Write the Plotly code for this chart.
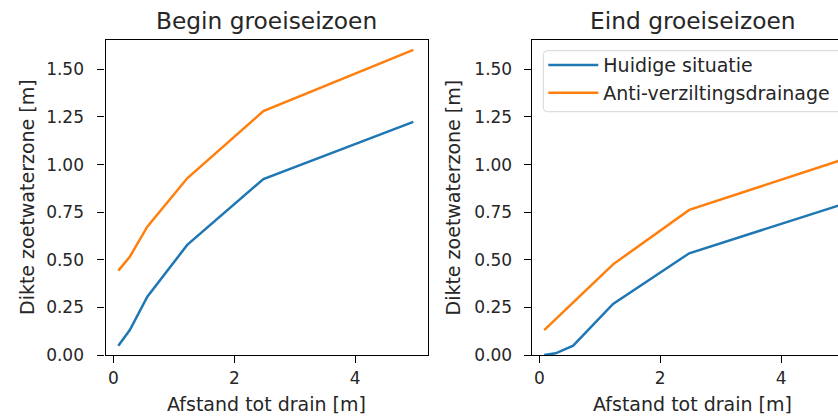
import plotly.graph_objects as go

# ---- data ----
afstand = [0.08, 0.27, 0.56, 1.22, 2.48, 4.96]
begin_huidig = [0.049, 0.131, 0.306, 0.578, 0.924, 1.224]
begin_anti = [0.443, 0.516, 0.674, 0.928, 1.281, 1.602]
eind_huidig = [0.0, 0.009, 0.049, 0.268, 0.534, 0.786]
eind_anti = [0.131, 0.188, 0.276, 0.476, 0.762, 1.020]
series_names = ["Huidige situatie", "Anti-verziltingsdrainage"]
titles = ["Begin groeiseizoen", "Eind groeiseizoen"]
x_label = "Afstand tot drain [m]"
y_label = "Dikte zoetwaterzone [m]"
y_ticks = [0, 0.25, 0.5, 0.75, 1.0, 1.25, 1.5]
x_ticks = [0, 2, 4]

W, H = 838, 418
BLUE, ORANGE = "#1f77b4", "#ff7f0e"
FONT = "DejaVu Sans"
TXT = "#262626"


def fx(px):
    return px / W


def fy(py):
    return 1 - py / H


fig = go.Figure()
fig.add_trace(go.Scatter(x=afstand, y=begin_huidig, mode="lines", name=series_names[0],
                         line=dict(color=BLUE, width=2.5), xaxis="x", yaxis="y",
                         legendgroup="a", showlegend=False))
fig.add_trace(go.Scatter(x=afstand, y=begin_anti, mode="lines", name=series_names[1],
                         line=dict(color=ORANGE, width=2.5), xaxis="x", yaxis="y",
                         legendgroup="b", showlegend=False))
fig.add_trace(go.Scatter(x=afstand, y=eind_huidig, mode="lines", name=series_names[0],
                         line=dict(color=BLUE, width=2.5), xaxis="x2", yaxis="y2",
                         legendgroup="a", showlegend=True))
fig.add_trace(go.Scatter(x=afstand, y=eind_anti, mode="lines", name=series_names[1],
                         line=dict(color=ORANGE, width=2.5), xaxis="x2", yaxis="y2",
                         legendgroup="b", showlegend=True))

ax_common = dict(showgrid=False, zeroline=False, showline=True, linecolor="black",
                 linewidth=1.2, ticks="outside", ticklen=7, tickwidth=1.2,
                 tickcolor="black", automargin=False,
                 tickfont=dict(family=FONT, size=17, color=TXT))

ydom = [fy(355), fy(40)]

# legend frame (rounded box, right part runs off the page like the reference)
bx0, bx1, by0, by1, r = 543.3, 870.0, 50.7, 111.7, 4.0
rx, ry = r / W, r / H
X0, X1, Y0, Y1 = fx(bx0), fx(bx1), fy(by0), fy(by1)
frame_path = (f"M {X0 + rx},{Y0} L {X1 - rx},{Y0} Q {X1},{Y0} {X1},{Y0 - ry} "
              f"L {X1},{Y1 + ry} Q {X1},{Y1} {X1 - rx},{Y1} L {X0 + rx},{Y1} "
              f"Q {X0},{Y1} {X0},{Y1 + ry} L {X0},{Y0 - ry} Q {X0},{Y0} {X0 + rx},{Y0} Z")

fig.update_layout(
    width=W, height=H,
    margin=dict(l=0, r=0, t=0, b=0, pad=0, autoexpand=False),
    paper_bgcolor="white", plot_bgcolor="white",
    font=dict(family=FONT, size=17, color=TXT),
    xaxis=dict(domain=[fx(105.5), fx(428.3)], range=[-0.132, 5.208], tickvals=x_ticks,
               mirror=True, anchor="y", **ax_common),
    yaxis=dict(domain=ydom, range=[0, 1.654], tickvals=y_ticks, tickformat=".2f",
               mirror=True, anchor="x", ticklabelstandoff=10, **ax_common),
    xaxis2=dict(domain=[fx(531.7), 1.0], range=[-0.126, 4.94], tickvals=x_ticks,
                mirror=True, anchor="y2", **ax_common),
    yaxis2=dict(domain=ydom, range=[0, 1.654], tickvals=y_ticks, tickformat=".2f",
                mirror=False, anchor="x2", ticklabelstandoff=8, **ax_common),
    legend=dict(x=fx(543.3), y=fy(46.2), xanchor="left", yanchor="top",
                bgcolor="rgba(0,0,0,0)", bordercolor="rgba(0,0,0,0)", borderwidth=0,
                font=dict(family=FONT, size=19, color=TXT), itemwidth=50,
                tracegroupgap=0),
    showlegend=True,
    shapes=[dict(type="path", path=frame_path, xref="paper", yref="paper",
                 line=dict(color="#d6d6d6", width=1), fillcolor="rgba(255,255,255,0.8)",
                 layer="above")],
)

annots = [
    dict(text=titles[0], x=fx(266.9), y=fy(20), size=23.3, angle=0),
    dict(text=titles[1], x=fx(693), y=fy(20), size=23.3, angle=0),
    dict(text=x_label, x=fx(266.9), y=fy(404), size=19, angle=0),
    dict(text=x_label, x=fx(692.5), y=fy(404), size=19, angle=0),
    dict(text=y_label, x=fx(26.5), y=fy(197.5), size=19, angle=-90),
    dict(text=y_label, x=fx(452), y=fy(197.5), size=19, angle=-90),
]
for a in annots:
    fig.add_annotation(text=a["text"], x=a["x"], y=a["y"], xref="paper", yref="paper",
                       xanchor="center", yanchor="middle", showarrow=False,
                       textangle=a["angle"], font=dict(family=FONT, size=a["size"], color=TXT))

fig.write_html("out.html")
